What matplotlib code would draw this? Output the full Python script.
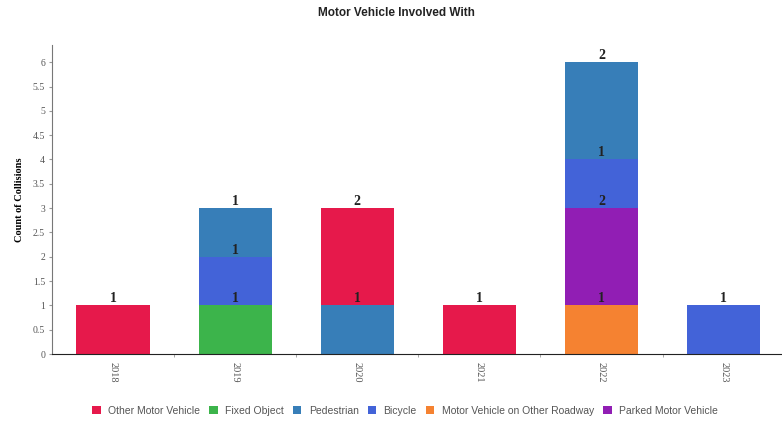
import numpy as np
import matplotlib.pyplot as plt

# Data
years = ['2018', '2019', '2020', '2021', '2022', '2023']
other_motor_vehicle = [1, 0, 2, 1, 0, 0]
fixed_object = [0, 1, 0, 0, 0, 0]
pedestrian = [0, 1, 1, 0, 2, 0]
bicycle = [0, 1, 0, 0, 1, 1]
mv_other_roadway = [0, 0, 0, 0, 1, 0]
parked_motor_vehicle = [0, 0, 0, 0, 2, 0]

legend_order = ['Other Motor Vehicle', 'Fixed Object', 'Pedestrian', 'Bicycle',
                'Motor Vehicle on Other Roadway', 'Parked Motor Vehicle']
series = {
    'Other Motor Vehicle': other_motor_vehicle,
    'Fixed Object': fixed_object,
    'Pedestrian': pedestrian,
    'Bicycle': bicycle,
    'Motor Vehicle on Other Roadway': mv_other_roadway,
    'Parked Motor Vehicle': parked_motor_vehicle,
}
colors = {
    'Other Motor Vehicle': '#e6194b',
    'Fixed Object': '#3cb44b',
    'Pedestrian': '#377eb8',
    'Bicycle': '#4363d8',
    'Motor Vehicle on Other Roadway': '#f58231',
    'Parked Motor Vehicle': '#911eb4',
}
# bottom to top
stack_order = ['Fixed Object', 'Motor Vehicle on Other Roadway', 'Parked Motor Vehicle',
               'Bicycle', 'Pedestrian', 'Other Motor Vehicle']

fig = plt.figure(figsize=(7.82, 4.22), dpi=100)
ax = fig.add_axes([0.0665, 0.161, 0.937, 0.732])

x = np.arange(len(years))
bottom = np.zeros(len(years))
handles = {}
for name in stack_order:
    vals = np.array(series[name], dtype=float)
    b = ax.bar(x, vals, width=0.6, bottom=bottom, color=colors[name], zorder=2)
    handles[name] = b
    for xi, v, bt in zip(x, vals, bottom):
        if v > 0:
            ax.text(xi, bt + v, '%d' % v, ha='center', va='bottom', fontsize=10,
                    fontweight='bold', family='Liberation Serif', color='#222222', zorder=5)
    bottom += vals

ax.set_xlim(-0.5, 5.5)
ax.set_ylim(0, 6.35)
ax.set_yticks(np.arange(0, 6.01, 0.5))
ax.set_yticklabels(['0', '0.5', '1', '1.5', '2', '2.5', '3', '3.5', '4', '4.5', '5', '5.5', '6'])
ax.set_xticks(x)
ax.set_xticklabels(years, rotation=-90)
ax.set_xticks(np.arange(0.5, 5.0, 1.0), minor=True)
ax.tick_params(axis='x', which='major', length=0, pad=6, labelsize=7.5, labelcolor='#555555')
ax.tick_params(axis='x', which='minor', length=2, color='#999999')
ax.tick_params(axis='y', length=2, color='#999999', labelsize=7, labelcolor='#555555', pad=3)
for lab in ax.get_xticklabels() + ax.get_yticklabels():
    lab.set_family('Liberation Serif')

for s in ['top', 'right']:
    ax.spines[s].set_visible(False)
ax.spines['left'].set_color('#777777')
ax.spines['bottom'].set_color('#222222')

ax.set_ylabel('Count of Collisions', fontsize=7.5, fontweight='bold',
              family='Liberation Serif', labelpad=6)
fig.text(0.507, 0.97, 'Motor Vehicle Involved With', ha='center', va='center',
         fontsize=8.5, fontweight='bold', family='Liberation Sans', color='#222222')

leg = fig.legend([handles[n] for n in legend_order], legend_order, loc='center',
                 bbox_to_anchor=(0.518, 0.027), ncol=6, frameon=False,
                 prop={'family': 'Liberation Sans', 'size': 7.5},
                 handlelength=0.8, handleheight=0.8, handletextpad=0.7, columnspacing=0.9)
for t in leg.get_texts():
    t.set_color('#555555')

fig.savefig('out.png', dpi=100)
